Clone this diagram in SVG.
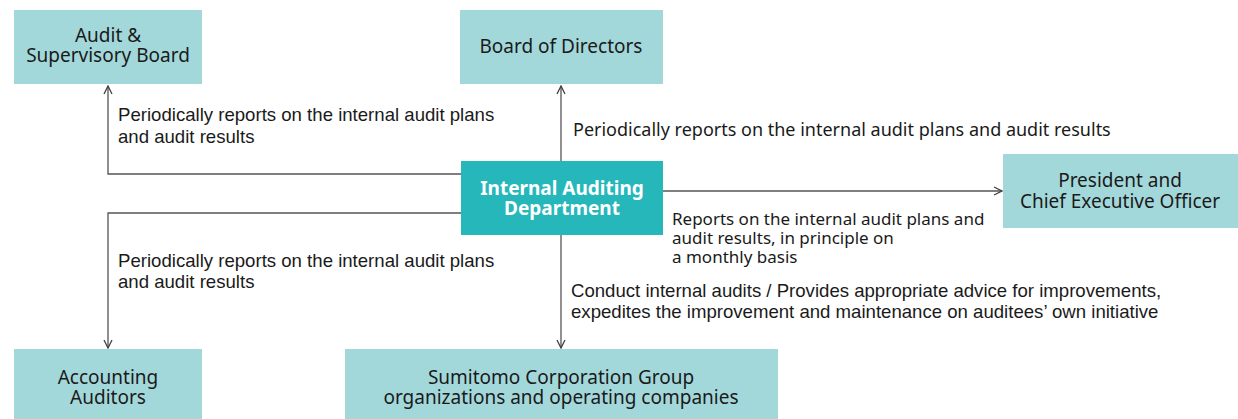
<svg xmlns="http://www.w3.org/2000/svg" width="1238" height="419" viewBox="0 0 1238 419">
<defs>
<marker id="arr" viewBox="0 0 10 10" refX="9" refY="5" markerWidth="10" markerHeight="10" markerUnits="userSpaceOnUse" orient="auto">
<path d="M1,1 L9,5 L1,9" fill="none" stroke="#404040" stroke-width="1.3"/>
</marker>
<style>
.box{fill:#a3d8da}
.main{fill:#26b7bb}
.bt{font-family:"Noto Sans","Open Sans",sans-serif;font-size:19px;fill:#1a1a1a;text-anchor:middle}
.wt{font-family:"Noto Sans","Open Sans",sans-serif;font-size:19px;font-weight:bold;fill:#ffffff;text-anchor:middle}
.la{font-family:"Liberation Sans",Arial,sans-serif;font-size:18.6px;fill:#1a1a1a}
.ln{font-family:"Noto Sans","Open Sans",sans-serif;font-size:17px;fill:#1a1a1a}
.c{fill:none;stroke:#555555;stroke-width:1.3}
</style>
</defs>
<rect width="1238" height="419" fill="#ffffff"/>
<g id="connectors">
<path class="c" d="M461,174 H108 V86" marker-end="url(#arr)"/>
<path class="c" d="M561,161 V86" marker-end="url(#arr)"/>
<path class="c" d="M663,191 H1002" marker-end="url(#arr)"/>
<path class="c" d="M461,213 H108 V348" marker-end="url(#arr)"/>
<path class="c" d="M561,235 V348" marker-end="url(#arr)"/>
<text class="la" x="118" y="121">Periodically reports on the internal audit plans</text>
<text class="la" x="118" y="143">and audit results</text>
<text class="ln" x="573" y="136" style="font-size:18px">Periodically reports on the internal audit plans and audit results</text>
<text class="ln" x="672" y="225">Reports on the internal audit plans and</text>
<text class="ln" x="672" y="244">audit results, in principle on</text>
<text class="ln" x="672" y="263">a monthly basis</text>
<text class="la" x="118" y="267">Periodically reports on the internal audit plans</text>
<text class="la" x="118" y="288">and audit results</text>
<text class="la" x="571" y="297">Conduct internal audits / Provides appropriate advice for improvements,</text>
<text class="la" x="571" y="318">expedites the improvement and maintenance on auditees’ own initiative</text>
</g>
<g id="audit-supervisory-board">
<rect class="box" x="14" y="10" width="188" height="74"/>
<text class="bt" x="108" y="42">Audit &amp;</text>
<text class="bt" x="108" y="62">Supervisory Board</text>
</g>
<g id="board-of-directors">
<rect class="box" x="460" y="10" width="203" height="74"/>
<text class="bt" x="561" y="53">Board of Directors</text>
</g>
<g id="internal-auditing-department">
<rect class="main" x="461" y="161" width="202" height="74"/>
<text class="wt" x="562" y="195">Internal Auditing</text>
<text class="wt" x="562" y="215">Department</text>
</g>
<g id="president-ceo">
<rect class="box" x="1003" y="154" width="235" height="74"/>
<text class="bt" x="1120" y="187">President and</text>
<text class="bt" x="1120" y="208">Chief Executive Officer</text>
</g>
<g id="accounting-auditors">
<rect class="box" x="14" y="349" width="188" height="70"/>
<text class="bt" x="108" y="384">Accounting</text>
<text class="bt" x="108" y="404">Auditors</text>
</g>
<g id="sumitomo-group">
<rect class="box" x="345" y="349" width="433" height="70"/>
<text class="bt" x="561" y="384">Sumitomo Corporation Group</text>
<text class="bt" x="561" y="404">organizations and operating companies</text>
</g>
</svg>
